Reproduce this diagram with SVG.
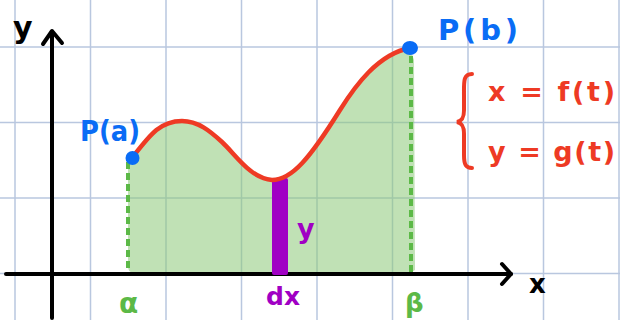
<svg xmlns="http://www.w3.org/2000/svg" width="620" height="320" viewBox="0 0 620 320">
<style>
.grid{stroke:#b9c7df;stroke-width:1.5;fill:none}
.axis{stroke:#000;stroke-width:4;fill:none;stroke-linecap:round;stroke-linejoin:round}
.curve{stroke:#ee3a24;stroke-width:4.5;fill:none;stroke-linecap:round}
.dash{stroke:#5cb947;stroke-width:4;stroke-dasharray:7 4;fill:none}
.pt{fill:#0a6cf5}
.t{font-family:"DejaVu Sans","Liberation Sans",sans-serif;font-weight:bold}
.blue{fill:#0a6cf5}
.red{fill:#ee3a24}
.purple{fill:#a000c4}
.green{fill:#5cb947}
.black{fill:#000}
</style>
<rect width="620" height="320" fill="#fff"/>
<g id="grid">
<path class="grid" d="M15,0V320M90.5,0V320M166,0V320M241.5,0V320M317,0V320M392.5,0V320M468,0V320M543.5,0V320M619,0V320M0,47H620M0,122.5H620M0,198H620M0,273.5H620"/>
</g>
<g id="area">
<path d="M132,158 C150,135 160,121 182,121 C198,121 210,131 222,142 C236,155 250,178 272,180 C292,180 310,158 340,110 C355,86 378,54 410,48 L414,60 L415,270 L410,273 L134,273 Q128,273 128,266 L128,160 Z" fill="rgb(140,200,120)" fill-opacity="0.55"/>
</g>
<g id="connectors">
<path class="dash" d="M128,162V273"/>
<path class="dash" d="M411,56V273"/>
<path class="axis" d="M52,318V32"/>
<path class="axis" d="M43,44L52,31L62,43"/>
<path class="axis" d="M6,274H511"/>
<path class="axis" d="M502,264L511,274L502,284"/>
</g>
<g id="strip">
<rect x="272" y="178" width="16" height="97" rx="2" fill="#a000c4"/>
</g>
<g id="curve">
<path class="curve" d="M132,158 C150,135 160,121 182,121 C198,121 210,131 222,142 C236,155 250,178 272,180 C292,180 310,158 340,110 C355,86 378,54 410,48"/>
</g>
<g id="Pa">
<circle class="pt" cx="132.5" cy="158" r="7"/>
<text class="t blue" x="80" y="141" font-size="28" textLength="60" lengthAdjust="spacingAndGlyphs">P(a)</text>
</g>
<g id="Pb">
<ellipse class="pt" cx="410" cy="48" rx="8" ry="7"/>
<text class="t blue" x="438" y="40" font-size="29" textLength="80">P(b)</text>
</g>
<g id="equations">
<path d="M472,74 C463,74 464,82 464,95 L464,110 C464,118 462,121 457,122 C462,123 464,126 464,134 L464,155 C464,165 466,168 472,168" stroke="#ee3a24" stroke-width="4" fill="none" stroke-linecap="round"/>
<text class="t red" x="488" y="101" font-size="27" textLength="127">x = f(t)</text>
<text class="t red" x="488" y="161" font-size="27" textLength="127">y = g(t)</text>
</g>
<g id="labels">
<text class="t black" x="13" y="38" font-size="30">y</text>
<text class="t black" x="529" y="293" font-size="26">x</text>
<text class="t green" x="119" y="313" font-size="28">α</text>
<text class="t green" x="405" y="312" font-size="26">β</text>
<text class="t purple" x="297" y="238" font-size="27">y</text>
<text class="t purple" x="266" y="305" font-size="25">dx</text>
</g>
</svg>
